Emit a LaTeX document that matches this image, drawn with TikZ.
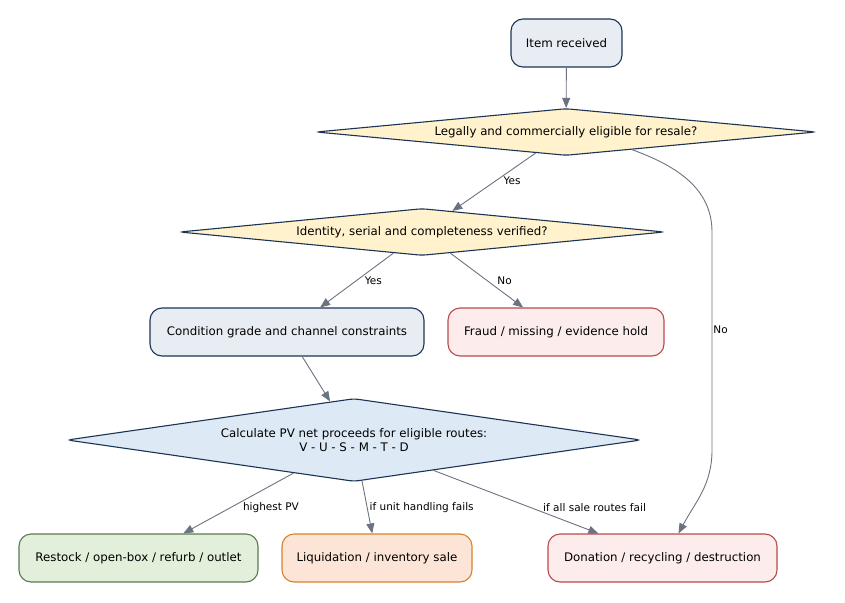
\documentclass[tikz,border=0pt]{standalone}
\usepackage{fontspec}
\setmainfont{DejaVu Sans}
\usetikzlibrary{shapes.geometric}
\usetikzlibrary{arrows.meta}

\definecolor{navyline}{RGB}{28,52,84}
\definecolor{greyblue}{RGB}{232,237,244}
\definecolor{paleyellow}{RGB}{255,242,204}
\definecolor{paleblue}{RGB}{221,234,246}
\definecolor{redline}{RGB}{184,74,74}
\definecolor{palered}{RGB}{253,236,236}
\definecolor{greenline}{RGB}{88,124,78}
\definecolor{palegreen}{RGB}{226,239,218}
\definecolor{orangeline}{RGB}{217,130,43}
\definecolor{paleorange}{RGB}{252,228,214}
\definecolor{edgegrey}{RGB}{107,114,128}

\newcommand{\nodefont}{\fontsize{11.8}{13.8}\selectfont}
\newcommand{\lblfont}{\fontsize{10.5}{12}\selectfont}

\tikzset{
	rbox/.style={rectangle, rounded corners=12pt, draw, line width=1.1pt,
		minimum height=48pt, inner sep=0pt, font=\nodefont},
	infobox/.style={rbox, draw=navyline, fill=greyblue},
	holdbox/.style={rbox, draw=redline, fill=palered},
	keepbox/.style={rbox, draw=greenline, fill=palegreen},
	sellbox/.style={rbox, draw=orangeline, fill=paleorange},
	gate/.style={diamond, rounded corners=4pt, draw=navyline, line width=1.1pt,
		fill=paleyellow, inner sep=0pt, aspect=10, font=\nodefont},
	calcgate/.style={gate, fill=paleblue, aspect=7, align=center},
	flow/.style={->, >={Triangle[length=10pt,width=8pt]}, draw=edgegrey,
		line width=0.9pt},
	lbl/.style={font=\lblfont, inner sep=0pt, text=black}
}

\begin{document}
\begin{tikzpicture}[x=1pt,y=1pt]
	\useasboundingbox (0,0) rectangle (845,-602);

	% ==================================================
	% 1. INTAKE AND CHECKS
	% ==================================================
	\node[infobox, minimum width=111pt] (item) at (566.5,-43) {Item received};
	\node[gate, minimum width=500pt, minimum height=47pt] (legal) at (566,-132)
		{Legally and commercially eligible for resale?};
	\node[gate, minimum width=485pt, minimum height=47pt] (ident) at (422,-232)
		{Identity, serial and completeness verified?};

	% ==================================================
	% 2. MIDDLE ROW
	% ==================================================
	\node[infobox, minimum width=274pt] (cond) at (287,-332)
		{Condition grade and channel constraints};
	\node[holdbox, minimum width=216pt] (fraud) at (556,-332)
		{Fraud / missing / evidence hold};
	\node[calcgate, minimum width=574pt, minimum height=83pt] (calc) at (354,-440)
		{Calculate PV net proceeds for eligible routes:\\V - U - S - M - T - D};

	% ==================================================
	% 3. OUTCOMES
	% ==================================================
	\node[keepbox, minimum width=239pt] (restock) at (138.5,-558)
		{Restock / open-box / refurb / outlet};
	\node[sellbox, minimum width=190pt] (liquid) at (377,-558)
		{Liquidation / inventory sale};
	\node[holdbox, minimum width=229pt] (donate) at (662.5,-558)
		{Donation / recycling / destruction};

	% bend points of the long No edge
	\coordinate (bendtop) at (712,-232);
	\coordinate (bendbot) at (712,-450);

	% ==================================================
	% 4. EDGES
	% ==================================================
	\draw[flow] (item) -- (legal);
	\draw[flow] (legal) -- node[lbl, pos=0.48, right=7.5pt] {Yes} (ident);
	\draw[flow] (legal.-15) to[out=-20, in=90] (bendtop)
		-- node[lbl, pos=0.45, right=1pt] {No} (bendbot)
		to[out=-90, in=62] ([xshift=16pt]donate.north);

	\draw[flow] (ident) -- node[lbl, pos=0.51, right=8.5pt] {Yes} (cond);
	\draw[flow] (ident) -- node[lbl, pos=0.51, right=9.5pt] {No} (fraud);
	\draw[flow] (cond) -- (calc);

	\draw[flow] (calc) -- node[lbl, pos=0.57, right=12pt] {highest PV} (restock);
	\draw[flow] (calc) -- node[lbl, pos=0.51, right=2pt] {if unit handling fails} (liquid);
	\draw[flow] (calc) -- node[lbl, pos=0.59, right=12pt] {if all sale routes fail} (donate);

\end{tikzpicture}
\end{document}
